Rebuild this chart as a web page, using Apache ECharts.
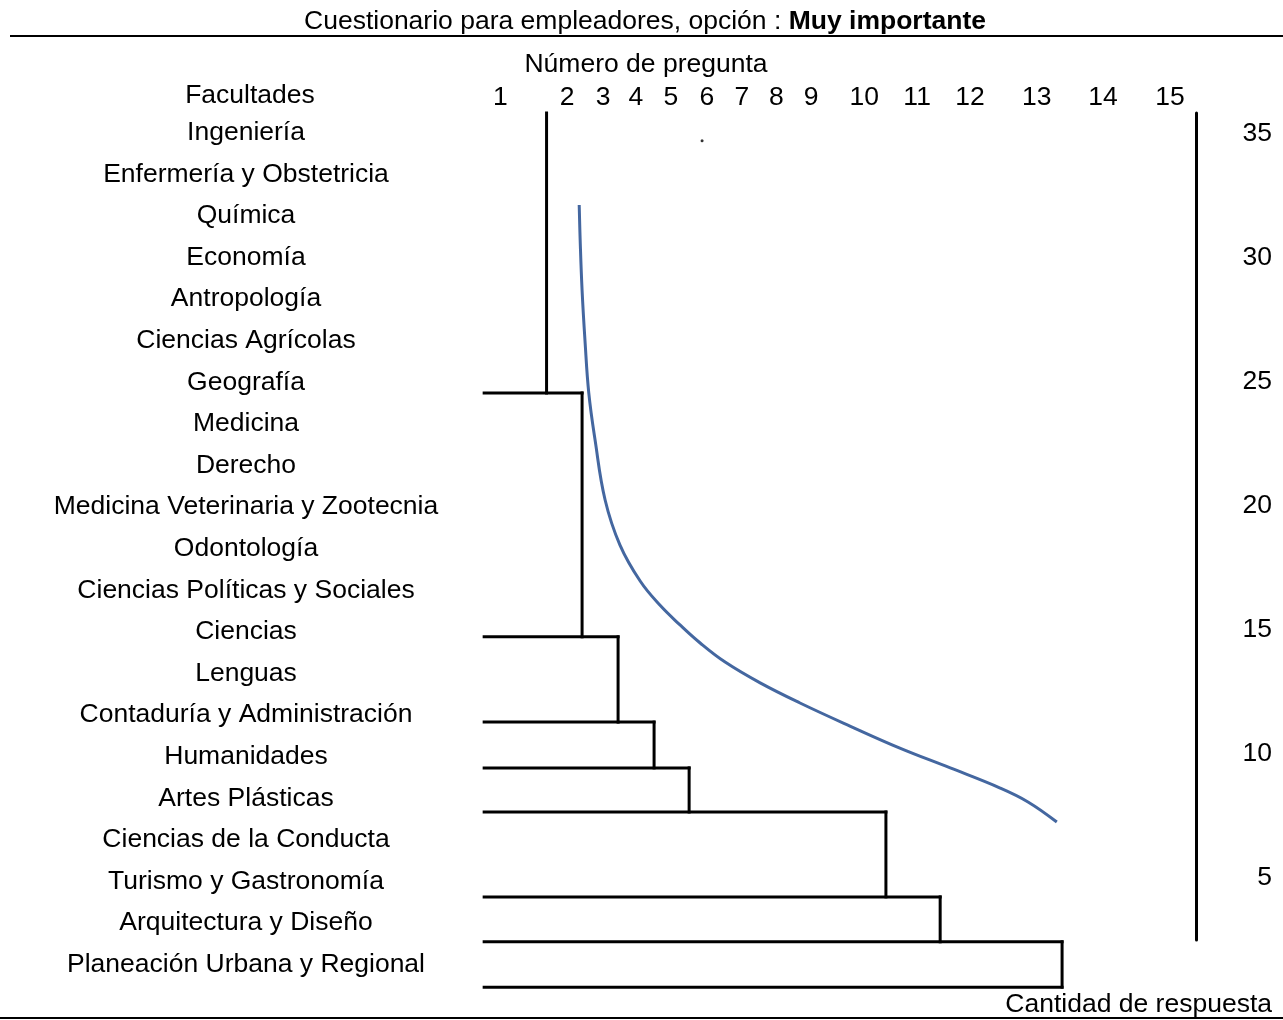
<!DOCTYPE html>
<html><head><meta charset="utf-8">
<script src="https://cdn.jsdelivr.net/npm/echarts@6/dist/echarts.min.js"></script>
<style>html,body{margin:0;padding:0;background:#fff}#c{width:1283px;height:1020px}</style>
</head><body><div id="c"></div>
<script>
// ---- data ----
const facultades = [
  'Ingeniería', 'Enfermería y Obstetricia', 'Química', 'Economía', 'Antropología',
  'Ciencias Agrícolas', 'Geografía', 'Medicina', 'Derecho', 'Medicina Veterinaria y Zootecnia',
  'Odontología', 'Ciencias Políticas y Sociales', 'Ciencias', 'Lenguas',
  'Contaduría y Administración', 'Humanidades', 'Artes Plásticas', 'Ciencias de la Conducta',
  'Turismo y Gastronomía', 'Arquitectura y Diseño', 'Planeación Urbana y Regional'
];
const preguntaLabels = ['1','2','3','4','5','6','7','8','9','10','11','12','13','14','15'];
// positions of the question tick labels along the horizontal scale
const preguntaPos = [1.01, 2.40, 3.15, 3.83, 4.56, 5.31, 6.04, 6.76, 7.48, 8.59, 9.69, 10.79, 12.18, 13.56, 14.96];
const cantidadTicks = [5, 10, 15, 20, 25, 30, 35];
// staircase (cluster) structure: vertical branch positions and row levels
const mergeX = [1.97, 2.71, 3.46, 4.21, 4.94, 9.04, 10.17, 12.71];
const mergeLevels = [-0.40, 6.33, 12.19, 14.24, 15.34, 16.40, 18.44, 19.52, 20.61];
const branchStart = 0.67;
// curve: question scale vs cantidad de respuesta
const curveX = [2.65, 2.67, 2.71, 2.77, 2.85, 2.98, 3.19, 3.50, 3.92, 4.33, 4.75, 5.17, 5.69, 6.42, 7.25, 8.29, 9.33, 10.38, 11.42, 12.00, 12.60];
const curveY = [32.05, 30.64, 28.61, 26.60, 24.46, 22.58, 20.15, 18.33, 16.88, 15.91, 15.11, 14.38, 13.61, 12.77, 11.96, 11.03, 10.14, 9.34, 8.53, 7.97, 7.16];
const dotPoint = [5.21, 0.27];

// ---- build ----
const segments = [];
for (let k = 0; k < mergeX.length; k++) {
  segments.push([mergeX[k], mergeLevels[k], mergeX[k], mergeLevels[k + 1]]);
}
for (let k = 1; k < mergeLevels.length; k++) {
  const xe = mergeX[Math.min(k, mergeX.length - 1)];
  segments.push([branchStart, mergeLevels[k], xe, mergeLevels[k]]);
}
const curveData = curveX.map((x, i) => [x, curveY[i]]);

const FONT = '"Liberation Sans", Arial, sans-serif';
const FS = 26.5;
const chart = echarts.init(document.getElementById('c'), null, {renderer: 'canvas'});
chart.setOption({
  animation: false,
  backgroundColor: '#fff',
  textStyle: {fontFamily: FONT, color: '#000'},
  grid: [
    {left: 476, right: 87, top: 108.8, height: 873.8},
    {left: 476, right: 87, top: 113, height: 827}
  ],
  xAxis: [
    {
      gridIndex: 0, type: 'value', min: 0.5, max: 15.5, position: 'top',
      axisLine: {show: false}, axisTick: {show: false}, splitLine: {show: false},
      axisLabel: {
        customValues: preguntaPos, fontSize: FS, color: '#000', margin: -2, fontFamily: FONT,
        formatter: v => {
          const i = preguntaPos.findIndex(p => Math.abs(p - v) < 1e-6);
          return i >= 0 ? preguntaLabels[i] : '';
        }
      }
    },
    {gridIndex: 1, type: 'value', min: 0.5, max: 15.5, show: false}
  ],
  yAxis: [
    {
      gridIndex: 0, type: 'category', data: facultades, inverse: true,
      axisLine: {show: false}, axisTick: {show: false}, splitLine: {show: false},
      axisLabel: {interval: 0, align: 'center', verticalAlign: 'top', lineHeight: 6, margin: 230, fontSize: FS, color: '#000', fontFamily: FONT}
    },
    {gridIndex: 0, type: 'value', min: -0.5, max: 20.5, inverse: true, show: false},
    {
      gridIndex: 1, type: 'value', position: 'right', min: 2.40, max: 35.76,
      axisLine: {show: true, lineStyle: {color: '#000', width: 3}},
      axisTick: {show: false}, splitLine: {show: false},
      axisLabel: {customValues: cantidadTicks, align: 'right', verticalAlign: 'top', lineHeight: 4, margin: 76, fontSize: FS, color: '#000', fontFamily: FONT}
    }
  ],
  series: [
    {
      type: 'custom', xAxisIndex: 0, yAxisIndex: 1, clip: false,
      data: segments,
      encode: {x: [0, 2], y: [1, 3]},
      renderItem: (params, api) => {
        const p0 = api.coord([api.value(0), api.value(1)]);
        const p1 = api.coord([api.value(2), api.value(3)]);
        return {type: 'line', shape: {x1: p0[0], y1: p0[1], x2: p1[0], y2: p1[1]},
          style: {stroke: '#000', lineWidth: 3, lineCap: 'square'}};
      }
    },
    {
      type: 'line', xAxisIndex: 1, yAxisIndex: 2, data: curveData, smooth: 0.4,
      showSymbol: false, lineStyle: {color: '#4467a0', width: 3}, clip: false
    },
    {
      type: 'scatter', xAxisIndex: 0, yAxisIndex: 1, data: [dotPoint],
      symbolSize: 3, itemStyle: {color: '#000'}
    }
  ],
  graphic: [
    {type: 'line', shape: {x1: 10, y1: 36, x2: 1283, y2: 36}, style: {stroke: '#000', lineWidth: 2}},
    {type: 'line', shape: {x1: 0, y1: 1018, x2: 1283, y2: 1018}, style: {stroke: '#000', lineWidth: 2}},
    {type: 'text', x: 645, y: 22, style: {
      text: '{a|Cuestionario para empleadores, opción : }{b|Muy importante}',
      align: 'center', verticalAlign: 'middle', fill: '#000',
      rich: {a: {fontSize: FS, fontFamily: FONT, fill: '#000'}, b: {fontSize: FS, fontFamily: FONT, fontWeight: 'bold', fill: '#000'}}
    }},
    {type: 'text', x: 646, y: 65, style: {text: 'Número de pregunta', font: FS + 'px ' + FONT, fill: '#000', align: 'center', verticalAlign: 'middle'}},
    {type: 'text', x: 250, y: 96, style: {text: 'Facultades', font: FS + 'px ' + FONT, fill: '#000', align: 'center', verticalAlign: 'middle'}},
    {type: 'text', x: 1272, y: 1005, style: {text: 'Cantidad de respuesta', font: FS + 'px ' + FONT, fill: '#000', align: 'right', verticalAlign: 'middle'}}
  ]
});
</script>
</body></html>
